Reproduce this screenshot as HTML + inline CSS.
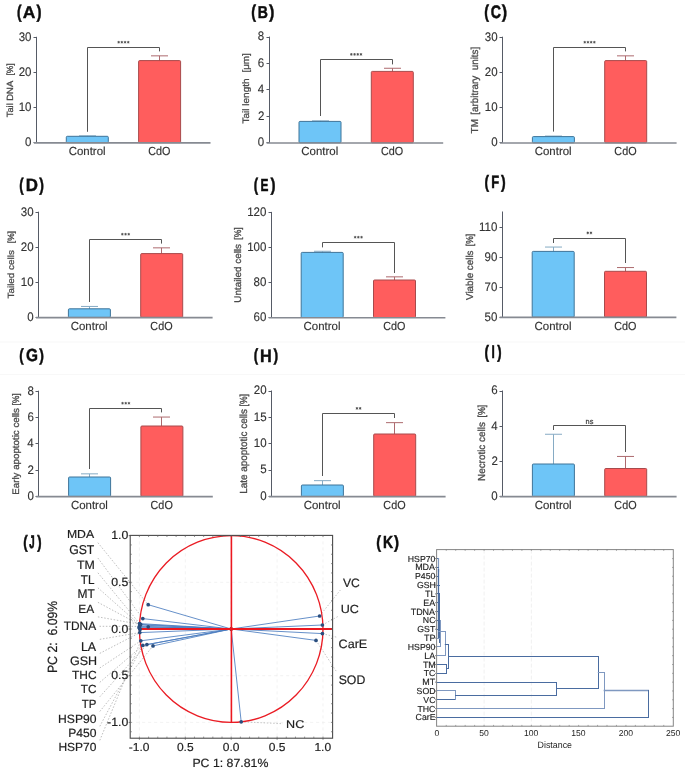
<!DOCTYPE html>
<html><head><meta charset="utf-8"><title>Figure</title>
<style>html,body{margin:0;padding:0;background:#fff;}svg{display:block;will-change:transform;text-rendering:geometricPrecision;}</style>
</head><body>
<svg width="685" height="771" viewBox="0 0 685 771" font-family='"Liberation Sans", sans-serif'>
<rect width="685" height="771" fill="#fff"/>
<rect x="0" y="341.6" width="685" height="0.8" fill="#f4f4f4"/>
<rect x="0" y="374.1" width="685" height="0.8" fill="#f6f6f6"/>
<line x1="36.5" y1="36.8" x2="36.5" y2="142.7" stroke="#565b66" stroke-width="1"/>
<line x1="33.5" y1="142.5" x2="36.5" y2="142.5" stroke="#565b66" stroke-width="1"/>
<text transform="translate(25.1,146.08) scale(0.9300,1)" font-size="12.400" fill="#333" font-weight="normal" stroke="#333" stroke-width="0.13">0</text>
<line x1="33.5" y1="107.5" x2="36.5" y2="107.5" stroke="#565b66" stroke-width="1"/>
<text transform="translate(18.7,110.94) scale(0.9300,1)" font-size="12.400" fill="#333" font-weight="normal" stroke="#333" stroke-width="0.13">10</text>
<line x1="33.5" y1="72.5" x2="36.5" y2="72.5" stroke="#565b66" stroke-width="1"/>
<text transform="translate(18.7,75.81) scale(0.9300,1)" font-size="12.400" fill="#333" font-weight="normal" stroke="#333" stroke-width="0.13">20</text>
<line x1="33.5" y1="37.5" x2="36.5" y2="37.5" stroke="#565b66" stroke-width="1"/>
<text transform="translate(18.7,40.68) scale(0.9300,1)" font-size="12.400" fill="#333" font-weight="normal" stroke="#333" stroke-width="0.13">30</text>
<line x1="87.5" y1="135.85" x2="87.5" y2="137.3" stroke="#86abc4" stroke-width="1"/>
<line x1="79" y1="135.85" x2="96" y2="135.85" stroke="#86abc4" stroke-width="1"/>
<rect x="66.3" y="136.3" width="42" height="6.4" rx="1" fill="#6ec5f7" stroke="#3f7499" stroke-width="1"/>
<line x1="159.5" y1="55.85" x2="159.5" y2="61.6" stroke="#ad6a6e" stroke-width="1"/>
<line x1="151" y1="55.85" x2="168" y2="55.85" stroke="#ad6a6e" stroke-width="1"/>
<rect x="138.6" y="60.6" width="42" height="82.1" rx="1" fill="#ff5d5d" stroke="#a84a4c" stroke-width="1"/>
<line x1="33.9" y1="142.9" x2="210.5" y2="142.9" stroke="#868a92" stroke-width="1.6"/>
<polyline points="87.5,131.8 87.5,47.5 159.5,47.5 159.5,51.4" fill="none" stroke="#555" stroke-width="1"/>
<circle cx="118.65" cy="42.1" r="0.95" fill="#444"/>
<path d="M118.65,40.8v3 M117.35,41.55l2.6,1.5 M117.35,43.05l2.6,-1.5" stroke="#555" stroke-width="0.45" fill="none"/>
<circle cx="121.85" cy="42.1" r="0.95" fill="#444"/>
<path d="M121.85,40.8v3 M120.55,41.55l2.6,1.5 M120.55,43.05l2.6,-1.5" stroke="#555" stroke-width="0.45" fill="none"/>
<circle cx="125.05" cy="42.1" r="0.95" fill="#444"/>
<path d="M125.05,40.8v3 M123.75,41.55l2.6,1.5 M123.75,43.05l2.6,-1.5" stroke="#555" stroke-width="0.45" fill="none"/>
<circle cx="128.25" cy="42.1" r="0.95" fill="#444"/>
<path d="M128.25,40.8v3 M126.95,41.55l2.6,1.5 M126.95,43.05l2.6,-1.5" stroke="#555" stroke-width="0.45" fill="none"/>
<text transform="translate(68.63,155.28) scale(0.9799,1)" font-size="11.701" fill="#333" font-weight="normal" stroke="#333" stroke-width="0.15">Control</text>
<text transform="translate(148.26,155.38) scale(0.9138,1)" font-size="11.837" fill="#333" font-weight="normal" stroke="#333" stroke-width="0.16">CdO</text>
<text transform="translate(12.76,75.49) rotate(-90) scale(0.9418,1)" font-size="8.984" fill="#4a4a4a" stroke="#4a4a4a" stroke-width="0.32">[%]</text>
<text transform="translate(12.76,117.29) rotate(-90) scale(1.0441,1)" font-size="8.984" fill="#4a4a4a" stroke="#4a4a4a" stroke-width="0.29">Tail DNA</text>
<text transform="translate(17.02,17.98) scale(0.7464,1)" font-size="18.182" fill="#0d0d0d" font-weight="bold" stroke="#0d0d0d" stroke-width="0.54">(</text>
<text transform="translate(22.76,17.6) scale(1.0299,1)" font-size="16.957" fill="#0d0d0d" font-weight="bold" stroke="#0d0d0d" stroke-width="0.39">A</text>
<text transform="translate(36.4,17.98) scale(0.8298,1)" font-size="18.182" fill="#0d0d0d" font-weight="bold" stroke="#0d0d0d" stroke-width="0.48">)</text>
<line x1="269.5" y1="36.6" x2="269.5" y2="142.8" stroke="#565b66" stroke-width="1"/>
<line x1="266.5" y1="142.5" x2="269.5" y2="142.5" stroke="#565b66" stroke-width="1"/>
<text transform="translate(257.8,146.18) scale(0.9300,1)" font-size="12.400" fill="#333" font-weight="normal" stroke="#333" stroke-width="0.13">0</text>
<line x1="266.5" y1="116.5" x2="269.5" y2="116.5" stroke="#565b66" stroke-width="1"/>
<text transform="translate(257.98,119.81) scale(0.9300,1)" font-size="12.400" fill="#333" font-weight="normal" stroke="#333" stroke-width="0.13">2</text>
<line x1="266.5" y1="89.5" x2="269.5" y2="89.5" stroke="#565b66" stroke-width="1"/>
<text transform="translate(257.75,93.33) scale(0.9300,1)" font-size="12.400" fill="#333" font-weight="normal" stroke="#333" stroke-width="0.13">4</text>
<line x1="266.5" y1="63.5" x2="269.5" y2="63.5" stroke="#565b66" stroke-width="1"/>
<text transform="translate(257.86,66.9) scale(0.9300,1)" font-size="12.400" fill="#333" font-weight="normal" stroke="#333" stroke-width="0.13">6</text>
<line x1="266.5" y1="37.5" x2="269.5" y2="37.5" stroke="#565b66" stroke-width="1"/>
<text transform="translate(257.86,40.48) scale(0.9300,1)" font-size="12.400" fill="#333" font-weight="normal" stroke="#333" stroke-width="0.13">8</text>
<line x1="320.5" y1="120.85" x2="320.5" y2="122.4" stroke="#86abc4" stroke-width="1"/>
<line x1="312" y1="120.85" x2="329" y2="120.85" stroke="#86abc4" stroke-width="1"/>
<rect x="299" y="121.4" width="42" height="21.4" rx="1" fill="#6ec5f7" stroke="#3f7499" stroke-width="1"/>
<line x1="392.5" y1="68.25" x2="392.5" y2="72.4" stroke="#ad6a6e" stroke-width="1"/>
<line x1="384" y1="68.25" x2="401" y2="68.25" stroke="#ad6a6e" stroke-width="1"/>
<rect x="371.3" y="71.4" width="42" height="71.4" rx="1" fill="#ff5d5d" stroke="#a84a4c" stroke-width="1"/>
<line x1="266.6" y1="143" x2="443.2" y2="143" stroke="#868a92" stroke-width="1.6"/>
<polyline points="320.5,116 320.5,59.5 392.5,59.5 392.5,64.4" fill="none" stroke="#555" stroke-width="1"/>
<circle cx="351.35" cy="54.3" r="0.95" fill="#444"/>
<path d="M351.35,53v3 M350.05,53.75l2.6,1.5 M350.05,55.25l2.6,-1.5" stroke="#555" stroke-width="0.45" fill="none"/>
<circle cx="354.55" cy="54.3" r="0.95" fill="#444"/>
<path d="M354.55,53v3 M353.25,53.75l2.6,1.5 M353.25,55.25l2.6,-1.5" stroke="#555" stroke-width="0.45" fill="none"/>
<circle cx="357.75" cy="54.3" r="0.95" fill="#444"/>
<path d="M357.75,53v3 M356.45,53.75l2.6,1.5 M356.45,55.25l2.6,-1.5" stroke="#555" stroke-width="0.45" fill="none"/>
<circle cx="360.95" cy="54.3" r="0.95" fill="#444"/>
<path d="M360.95,53v3 M359.65,53.75l2.6,1.5 M359.65,55.25l2.6,-1.5" stroke="#555" stroke-width="0.45" fill="none"/>
<text transform="translate(301.33,155.38) scale(0.9799,1)" font-size="11.701" fill="#333" font-weight="normal" stroke="#333" stroke-width="0.15">Control</text>
<text transform="translate(380.96,155.48) scale(0.9138,1)" font-size="11.837" fill="#333" font-weight="normal" stroke="#333" stroke-width="0.16">CdO</text>
<text transform="translate(248.87,72.48) rotate(-90) scale(1.0391,1)" font-size="9.412" fill="#4a4a4a" stroke="#4a4a4a" stroke-width="0.29">[&#956;m]</text>
<text transform="translate(248.87,123.5) rotate(-90) scale(1.0637,1)" font-size="9.412" fill="#4a4a4a" stroke="#4a4a4a" stroke-width="0.28">Tail length</text>
<text transform="translate(251.19,17.99) scale(0.7677,1)" font-size="18.610" fill="#0d0d0d" font-weight="bold" stroke="#0d0d0d" stroke-width="0.52">(</text>
<text transform="translate(257.78,17.6) scale(0.8175,1)" font-size="17.246" fill="#0d0d0d" font-weight="bold" stroke="#0d0d0d" stroke-width="0.49">B</text>
<text transform="translate(269.1,17.99) scale(0.8673,1)" font-size="18.610" fill="#0d0d0d" font-weight="bold" stroke="#0d0d0d" stroke-width="0.46">)</text>
<line x1="502.5" y1="36.7" x2="502.5" y2="142.8" stroke="#565b66" stroke-width="1"/>
<line x1="499.5" y1="142.5" x2="502.5" y2="142.5" stroke="#565b66" stroke-width="1"/>
<text transform="translate(491.2,146.18) scale(0.9300,1)" font-size="12.400" fill="#333" font-weight="normal" stroke="#333" stroke-width="0.13">0</text>
<line x1="499.5" y1="107.5" x2="502.5" y2="107.5" stroke="#565b66" stroke-width="1"/>
<text transform="translate(484.8,110.98) scale(0.9300,1)" font-size="12.400" fill="#333" font-weight="normal" stroke="#333" stroke-width="0.13">10</text>
<line x1="499.5" y1="72.5" x2="502.5" y2="72.5" stroke="#565b66" stroke-width="1"/>
<text transform="translate(484.8,75.78) scale(0.9300,1)" font-size="12.400" fill="#333" font-weight="normal" stroke="#333" stroke-width="0.13">20</text>
<line x1="499.5" y1="37.5" x2="502.5" y2="37.5" stroke="#565b66" stroke-width="1"/>
<text transform="translate(484.8,40.58) scale(0.9300,1)" font-size="12.400" fill="#333" font-weight="normal" stroke="#333" stroke-width="0.13">30</text>
<line x1="553.5" y1="136.05" x2="553.5" y2="137.6" stroke="#86abc4" stroke-width="1"/>
<line x1="545" y1="136.05" x2="562" y2="136.05" stroke="#86abc4" stroke-width="1"/>
<rect x="532.4" y="136.6" width="42" height="6.2" rx="1" fill="#6ec5f7" stroke="#3f7499" stroke-width="1"/>
<line x1="625.5" y1="55.85" x2="625.5" y2="61.6" stroke="#ad6a6e" stroke-width="1"/>
<line x1="617" y1="55.85" x2="634" y2="55.85" stroke="#ad6a6e" stroke-width="1"/>
<rect x="604.7" y="60.6" width="42" height="82.2" rx="1" fill="#ff5d5d" stroke="#a84a4c" stroke-width="1"/>
<line x1="500" y1="143" x2="676.6" y2="143" stroke="#868a92" stroke-width="1.6"/>
<polyline points="553.5,131.6 553.5,47.5 625.5,47.5 625.5,51.4" fill="none" stroke="#555" stroke-width="1"/>
<circle cx="584.75" cy="42.1" r="0.95" fill="#444"/>
<path d="M584.75,40.8v3 M583.45,41.55l2.6,1.5 M583.45,43.05l2.6,-1.5" stroke="#555" stroke-width="0.45" fill="none"/>
<circle cx="587.95" cy="42.1" r="0.95" fill="#444"/>
<path d="M587.95,40.8v3 M586.65,41.55l2.6,1.5 M586.65,43.05l2.6,-1.5" stroke="#555" stroke-width="0.45" fill="none"/>
<circle cx="591.15" cy="42.1" r="0.95" fill="#444"/>
<path d="M591.15,40.8v3 M589.85,41.55l2.6,1.5 M589.85,43.05l2.6,-1.5" stroke="#555" stroke-width="0.45" fill="none"/>
<circle cx="594.35" cy="42.1" r="0.95" fill="#444"/>
<path d="M594.35,40.8v3 M593.05,41.55l2.6,1.5 M593.05,43.05l2.6,-1.5" stroke="#555" stroke-width="0.45" fill="none"/>
<text transform="translate(534.73,155.38) scale(0.9799,1)" font-size="11.701" fill="#333" font-weight="normal" stroke="#333" stroke-width="0.15">Control</text>
<text transform="translate(614.36,155.48) scale(0.9138,1)" font-size="11.837" fill="#333" font-weight="normal" stroke="#333" stroke-width="0.16">CdO</text>
<text transform="translate(477.64,114.69) rotate(-90) scale(0.9814,1)" font-size="10.053" fill="#4a4a4a" stroke="#4a4a4a" stroke-width="0.31">[arbitrary&#160;&#160;units]</text>
<text transform="translate(477.64,133.4) rotate(-90) scale(0.9873,1)" font-size="10.053" fill="#4a4a4a" stroke="#4a4a4a" stroke-width="0.3">TM</text>
<text transform="translate(484.19,17.99) scale(0.7677,1)" font-size="18.610" fill="#0d0d0d" font-weight="bold" stroke="#0d0d0d" stroke-width="0.52">(</text>
<text transform="translate(490.73,18.22) scale(0.7815,1)" font-size="18.169" fill="#0d0d0d" font-weight="bold" stroke="#0d0d0d" stroke-width="0.51">C</text>
<text transform="translate(501.8,17.99) scale(0.8673,1)" font-size="18.610" fill="#0d0d0d" font-weight="bold" stroke="#0d0d0d" stroke-width="0.46">)</text>
<line x1="38.5" y1="211.7" x2="38.5" y2="317.4" stroke="#565b66" stroke-width="1"/>
<line x1="35.5" y1="317.5" x2="38.5" y2="317.5" stroke="#565b66" stroke-width="1"/>
<text transform="translate(27.2,320.78) scale(0.9300,1)" font-size="12.400" fill="#333" font-weight="normal" stroke="#333" stroke-width="0.13">0</text>
<line x1="35.5" y1="282.5" x2="38.5" y2="282.5" stroke="#565b66" stroke-width="1"/>
<text transform="translate(20.8,285.71) scale(0.9300,1)" font-size="12.400" fill="#333" font-weight="normal" stroke="#333" stroke-width="0.13">10</text>
<line x1="35.5" y1="247.5" x2="38.5" y2="247.5" stroke="#565b66" stroke-width="1"/>
<text transform="translate(20.8,250.64) scale(0.9300,1)" font-size="12.400" fill="#333" font-weight="normal" stroke="#333" stroke-width="0.13">20</text>
<line x1="35.5" y1="212.5" x2="38.5" y2="212.5" stroke="#565b66" stroke-width="1"/>
<text transform="translate(20.8,215.58) scale(0.9300,1)" font-size="12.400" fill="#333" font-weight="normal" stroke="#333" stroke-width="0.13">30</text>
<line x1="89.5" y1="306.45" x2="89.5" y2="309.8" stroke="#86abc4" stroke-width="1"/>
<line x1="81" y1="306.45" x2="98" y2="306.45" stroke="#86abc4" stroke-width="1"/>
<rect x="68.4" y="308.8" width="42" height="8.6" rx="1" fill="#6ec5f7" stroke="#3f7499" stroke-width="1"/>
<line x1="161.5" y1="247.85" x2="161.5" y2="254.6" stroke="#ad6a6e" stroke-width="1"/>
<line x1="153" y1="247.85" x2="170" y2="247.85" stroke="#ad6a6e" stroke-width="1"/>
<rect x="140.7" y="253.6" width="42" height="63.8" rx="1" fill="#ff5d5d" stroke="#a84a4c" stroke-width="1"/>
<line x1="36" y1="317.6" x2="212.6" y2="317.6" stroke="#868a92" stroke-width="1.6"/>
<polyline points="89.5,302 89.5,239.5 161.5,239.5 161.5,243.6" fill="none" stroke="#555" stroke-width="1"/>
<circle cx="122.35" cy="234.1" r="0.95" fill="#444"/>
<path d="M122.35,232.8v3 M121.05,233.55l2.6,1.5 M121.05,235.05l2.6,-1.5" stroke="#555" stroke-width="0.45" fill="none"/>
<circle cx="125.55" cy="234.1" r="0.95" fill="#444"/>
<path d="M125.55,232.8v3 M124.25,233.55l2.6,1.5 M124.25,235.05l2.6,-1.5" stroke="#555" stroke-width="0.45" fill="none"/>
<circle cx="128.75" cy="234.1" r="0.95" fill="#444"/>
<path d="M128.75,232.8v3 M127.45,233.55l2.6,1.5 M127.45,235.05l2.6,-1.5" stroke="#555" stroke-width="0.45" fill="none"/>
<text transform="translate(70.73,329.98) scale(0.9799,1)" font-size="11.701" fill="#333" font-weight="normal" stroke="#333" stroke-width="0.15">Control</text>
<text transform="translate(150.36,330.08) scale(0.9138,1)" font-size="11.837" fill="#333" font-weight="normal" stroke="#333" stroke-width="0.16">CdO</text>
<text transform="translate(14.46,243.19) rotate(-90) scale(0.9333,1)" font-size="8.984" fill="#4a4a4a" stroke="#4a4a4a" stroke-width="0.32">[%]</text>
<text transform="translate(14.46,298.5) rotate(-90) scale(1.1027,1)" font-size="8.984" fill="#4a4a4a" stroke="#4a4a4a" stroke-width="0.27">Tailed cells</text>
<text transform="translate(19.34,190.94) scale(0.7183,1)" font-size="18.396" fill="#0d0d0d" font-weight="bold" stroke="#0d0d0d" stroke-width="0.56">(</text>
<text transform="translate(25.7,191.3) scale(0.9410,1)" font-size="17.971" fill="#0d0d0d" font-weight="bold" stroke="#0d0d0d" stroke-width="0.43">D</text>
<text transform="translate(39.3,190.94) scale(0.7630,1)" font-size="18.396" fill="#0d0d0d" font-weight="bold" stroke="#0d0d0d" stroke-width="0.52">)</text>
<line x1="271.5" y1="211.9" x2="271.5" y2="317.5" stroke="#565b66" stroke-width="1"/>
<line x1="268.5" y1="317.5" x2="271.5" y2="317.5" stroke="#565b66" stroke-width="1"/>
<text transform="translate(253.6,320.88) scale(0.9300,1)" font-size="12.400" fill="#333" font-weight="normal" stroke="#333" stroke-width="0.13">60</text>
<line x1="268.5" y1="282.5" x2="271.5" y2="282.5" stroke="#565b66" stroke-width="1"/>
<text transform="translate(253.6,285.84) scale(0.9300,1)" font-size="12.400" fill="#333" font-weight="normal" stroke="#333" stroke-width="0.13">80</text>
<line x1="268.5" y1="247.5" x2="271.5" y2="247.5" stroke="#565b66" stroke-width="1"/>
<text transform="translate(247.2,250.81) scale(0.9300,1)" font-size="12.400" fill="#333" font-weight="normal" stroke="#333" stroke-width="0.13">100</text>
<line x1="268.5" y1="212.5" x2="271.5" y2="212.5" stroke="#565b66" stroke-width="1"/>
<text transform="translate(247.2,215.78) scale(0.9300,1)" font-size="12.400" fill="#333" font-weight="normal" stroke="#333" stroke-width="0.13">120</text>
<line x1="322.5" y1="251.25" x2="322.5" y2="253.4" stroke="#86abc4" stroke-width="1"/>
<line x1="314" y1="251.25" x2="331" y2="251.25" stroke="#86abc4" stroke-width="1"/>
<rect x="301.2" y="252.4" width="42" height="65.1" rx="1" fill="#6ec5f7" stroke="#3f7499" stroke-width="1"/>
<line x1="394.5" y1="276.85" x2="394.5" y2="281" stroke="#ad6a6e" stroke-width="1"/>
<line x1="386" y1="276.85" x2="403" y2="276.85" stroke="#ad6a6e" stroke-width="1"/>
<rect x="373.5" y="280" width="42" height="37.5" rx="1" fill="#ff5d5d" stroke="#a84a4c" stroke-width="1"/>
<line x1="268.8" y1="317.7" x2="445.4" y2="317.7" stroke="#868a92" stroke-width="1.6"/>
<polyline points="322.5,247.4 322.5,242.5 394.5,242.5 394.5,273" fill="none" stroke="#555" stroke-width="1"/>
<circle cx="355.15" cy="237.1" r="0.95" fill="#444"/>
<path d="M355.15,235.8v3 M353.85,236.55l2.6,1.5 M353.85,238.05l2.6,-1.5" stroke="#555" stroke-width="0.45" fill="none"/>
<circle cx="358.35" cy="237.1" r="0.95" fill="#444"/>
<path d="M358.35,235.8v3 M357.05,236.55l2.6,1.5 M357.05,238.05l2.6,-1.5" stroke="#555" stroke-width="0.45" fill="none"/>
<circle cx="361.55" cy="237.1" r="0.95" fill="#444"/>
<path d="M361.55,235.8v3 M360.25,236.55l2.6,1.5 M360.25,238.05l2.6,-1.5" stroke="#555" stroke-width="0.45" fill="none"/>
<text transform="translate(303.53,330.08) scale(0.9799,1)" font-size="11.701" fill="#333" font-weight="normal" stroke="#333" stroke-width="0.15">Control</text>
<text transform="translate(383.16,330.18) scale(0.9138,1)" font-size="11.837" fill="#333" font-weight="normal" stroke="#333" stroke-width="0.16">CdO</text>
<text transform="translate(240.83,239.7) rotate(-90) scale(0.8871,1)" font-size="9.626" fill="#4a4a4a" stroke="#4a4a4a" stroke-width="0.34">[%]</text>
<text transform="translate(240.83,302.64) rotate(-90) scale(1.0255,1)" font-size="9.626" fill="#4a4a4a" stroke="#4a4a4a" stroke-width="0.29">Untailed cells</text>
<text transform="translate(253.64,190.94) scale(0.7183,1)" font-size="18.396" fill="#0d0d0d" font-weight="bold" stroke="#0d0d0d" stroke-width="0.56">(</text>
<text transform="translate(260.43,191.3) scale(0.6762,1)" font-size="17.536" fill="#0d0d0d" font-weight="bold" stroke="#0d0d0d" stroke-width="0.59">E</text>
<text transform="translate(270.4,190.94) scale(0.8202,1)" font-size="18.396" fill="#0d0d0d" font-weight="bold" stroke="#0d0d0d" stroke-width="0.49">)</text>
<line x1="502.5" y1="211.5" x2="502.5" y2="317.2" stroke="#565b66" stroke-width="1"/>
<line x1="499.5" y1="317.5" x2="502.5" y2="317.5" stroke="#565b66" stroke-width="1"/>
<text transform="translate(484.6,320.58) scale(0.9300,1)" font-size="12.400" fill="#333" font-weight="normal" stroke="#333" stroke-width="0.13">50</text>
<line x1="499.5" y1="287.5" x2="502.5" y2="287.5" stroke="#565b66" stroke-width="1"/>
<text transform="translate(484.6,290.78) scale(0.9300,1)" font-size="12.400" fill="#333" font-weight="normal" stroke="#333" stroke-width="0.13">70</text>
<line x1="499.5" y1="257.5" x2="502.5" y2="257.5" stroke="#565b66" stroke-width="1"/>
<text transform="translate(484.6,260.78) scale(0.9300,1)" font-size="12.400" fill="#333" font-weight="normal" stroke="#333" stroke-width="0.13">90</text>
<line x1="499.5" y1="227.5" x2="502.5" y2="227.5" stroke="#565b66" stroke-width="1"/>
<text transform="translate(479.01,230.78) scale(0.9300,1)" font-size="12.400" fill="#333" font-weight="normal" stroke="#333" stroke-width="0.13">110</text>
<line x1="553.5" y1="247.05" x2="553.5" y2="252.4" stroke="#86abc4" stroke-width="1"/>
<line x1="545" y1="247.05" x2="562" y2="247.05" stroke="#86abc4" stroke-width="1"/>
<rect x="532.2" y="251.4" width="42" height="65.8" rx="1" fill="#6ec5f7" stroke="#3f7499" stroke-width="1"/>
<line x1="625.5" y1="267.55" x2="625.5" y2="272.3" stroke="#ad6a6e" stroke-width="1"/>
<line x1="617" y1="267.55" x2="634" y2="267.55" stroke="#ad6a6e" stroke-width="1"/>
<rect x="604.5" y="271.3" width="42" height="45.9" rx="1" fill="#ff5d5d" stroke="#a84a4c" stroke-width="1"/>
<line x1="499.8" y1="317.4" x2="676.4" y2="317.4" stroke="#868a92" stroke-width="1.6"/>
<polyline points="553.5,243 553.5,238.5 625.5,238.5 625.5,263" fill="none" stroke="#555" stroke-width="1"/>
<circle cx="587.75" cy="232.8" r="0.95" fill="#444"/>
<path d="M587.75,231.5v3 M586.45,232.25l2.6,1.5 M586.45,233.75l2.6,-1.5" stroke="#555" stroke-width="0.45" fill="none"/>
<circle cx="590.95" cy="232.8" r="0.95" fill="#444"/>
<path d="M590.95,231.5v3 M589.65,232.25l2.6,1.5 M589.65,233.75l2.6,-1.5" stroke="#555" stroke-width="0.45" fill="none"/>
<text transform="translate(534.53,329.78) scale(0.9799,1)" font-size="11.701" fill="#333" font-weight="normal" stroke="#333" stroke-width="0.15">Control</text>
<text transform="translate(614.16,329.88) scale(0.9138,1)" font-size="11.837" fill="#333" font-weight="normal" stroke="#333" stroke-width="0.16">CdO</text>
<text transform="translate(472.76,246.2) rotate(-90) scale(0.8584,1)" font-size="9.947" fill="#4a4a4a" stroke="#4a4a4a" stroke-width="0.35">[%]</text>
<text transform="translate(472.76,299.95) rotate(-90) scale(0.9873,1)" font-size="9.947" fill="#4a4a4a" stroke="#4a4a4a" stroke-width="0.3">Viable cells</text>
<text transform="translate(484.42,187.9) scale(0.7508,1)" font-size="18.075" fill="#0d0d0d" font-weight="bold" stroke="#0d0d0d" stroke-width="0.53">(</text>
<text transform="translate(491.36,188.2) scale(0.7319,1)" font-size="17.681" fill="#0d0d0d" font-weight="bold" stroke="#0d0d0d" stroke-width="0.55">F</text>
<text transform="translate(501,187.9) scale(0.7765,1)" font-size="18.075" fill="#0d0d0d" font-weight="bold" stroke="#0d0d0d" stroke-width="0.52">)</text>
<line x1="38.5" y1="390.7" x2="38.5" y2="496.4" stroke="#565b66" stroke-width="1"/>
<line x1="35.5" y1="496.5" x2="38.5" y2="496.5" stroke="#565b66" stroke-width="1"/>
<text transform="translate(27.4,499.78) scale(0.9300,1)" font-size="12.400" fill="#333" font-weight="normal" stroke="#333" stroke-width="0.13">0</text>
<line x1="35.5" y1="470.5" x2="38.5" y2="470.5" stroke="#565b66" stroke-width="1"/>
<text transform="translate(27.58,473.54) scale(0.9300,1)" font-size="12.400" fill="#333" font-weight="normal" stroke="#333" stroke-width="0.13">2</text>
<line x1="35.5" y1="443.5" x2="38.5" y2="443.5" stroke="#565b66" stroke-width="1"/>
<text transform="translate(27.35,447.18) scale(0.9300,1)" font-size="12.400" fill="#333" font-weight="normal" stroke="#333" stroke-width="0.13">4</text>
<line x1="35.5" y1="417.5" x2="38.5" y2="417.5" stroke="#565b66" stroke-width="1"/>
<text transform="translate(27.46,420.88) scale(0.9300,1)" font-size="12.400" fill="#333" font-weight="normal" stroke="#333" stroke-width="0.13">6</text>
<line x1="35.5" y1="391.5" x2="38.5" y2="391.5" stroke="#565b66" stroke-width="1"/>
<text transform="translate(27.46,394.58) scale(0.9300,1)" font-size="12.400" fill="#333" font-weight="normal" stroke="#333" stroke-width="0.13">8</text>
<line x1="89.5" y1="473.85" x2="89.5" y2="478" stroke="#86abc4" stroke-width="1"/>
<line x1="81" y1="473.85" x2="98" y2="473.85" stroke="#86abc4" stroke-width="1"/>
<rect x="68.6" y="477" width="42" height="19.4" rx="1" fill="#6ec5f7" stroke="#3f7499" stroke-width="1"/>
<line x1="161.5" y1="417.05" x2="161.5" y2="427" stroke="#ad6a6e" stroke-width="1"/>
<line x1="153" y1="417.05" x2="170" y2="417.05" stroke="#ad6a6e" stroke-width="1"/>
<rect x="140.9" y="426" width="42" height="70.4" rx="1" fill="#ff5d5d" stroke="#a84a4c" stroke-width="1"/>
<line x1="36.2" y1="496.6" x2="212.8" y2="496.6" stroke="#868a92" stroke-width="1.6"/>
<polyline points="89.5,469 89.5,408.5 161.5,408.5 161.5,412.4" fill="none" stroke="#555" stroke-width="1"/>
<circle cx="122.55" cy="403.1" r="0.95" fill="#444"/>
<path d="M122.55,401.8v3 M121.25,402.55l2.6,1.5 M121.25,404.05l2.6,-1.5" stroke="#555" stroke-width="0.45" fill="none"/>
<circle cx="125.75" cy="403.1" r="0.95" fill="#444"/>
<path d="M125.75,401.8v3 M124.45,402.55l2.6,1.5 M124.45,404.05l2.6,-1.5" stroke="#555" stroke-width="0.45" fill="none"/>
<circle cx="128.95" cy="403.1" r="0.95" fill="#444"/>
<path d="M128.95,401.8v3 M127.65,402.55l2.6,1.5 M127.65,404.05l2.6,-1.5" stroke="#555" stroke-width="0.45" fill="none"/>
<text transform="translate(70.93,508.98) scale(0.9799,1)" font-size="11.701" fill="#333" font-weight="normal" stroke="#333" stroke-width="0.15">Control</text>
<text transform="translate(150.56,509.08) scale(0.9138,1)" font-size="11.837" fill="#333" font-weight="normal" stroke="#333" stroke-width="0.16">CdO</text>
<text transform="translate(18.85,405.6) rotate(-90) scale(0.8970,1)" font-size="9.519" fill="#4a4a4a" stroke="#4a4a4a" stroke-width="0.33">[%]</text>
<text transform="translate(18.85,494.68) rotate(-90) scale(1.0242,1)" font-size="9.519" fill="#4a4a4a" stroke="#4a4a4a" stroke-width="0.29">Early apoptotic cells</text>
<text transform="translate(19.34,361.14) scale(0.7580,1)" font-size="17.433" fill="#0d0d0d" font-weight="bold" stroke="#0d0d0d" stroke-width="0.53">(</text>
<text transform="translate(25.88,361.43) scale(0.8822,1)" font-size="17.465" fill="#0d0d0d" font-weight="bold" stroke="#0d0d0d" stroke-width="0.45">G</text>
<text transform="translate(39.3,361.14) scale(0.8051,1)" font-size="17.433" fill="#0d0d0d" font-weight="bold" stroke="#0d0d0d" stroke-width="0.5">)</text>
<line x1="271.5" y1="390.5" x2="271.5" y2="496.4" stroke="#565b66" stroke-width="1"/>
<line x1="268.5" y1="496.5" x2="271.5" y2="496.5" stroke="#565b66" stroke-width="1"/>
<text transform="translate(260.2,499.78) scale(0.9300,1)" font-size="12.400" fill="#333" font-weight="normal" stroke="#333" stroke-width="0.13">0</text>
<line x1="268.5" y1="470.5" x2="271.5" y2="470.5" stroke="#565b66" stroke-width="1"/>
<text transform="translate(260.26,473.37) scale(0.9300,1)" font-size="12.400" fill="#333" font-weight="normal" stroke="#333" stroke-width="0.13">5</text>
<line x1="268.5" y1="443.5" x2="271.5" y2="443.5" stroke="#565b66" stroke-width="1"/>
<text transform="translate(253.8,447.08) scale(0.9300,1)" font-size="12.400" fill="#333" font-weight="normal" stroke="#333" stroke-width="0.13">10</text>
<line x1="268.5" y1="417.5" x2="271.5" y2="417.5" stroke="#565b66" stroke-width="1"/>
<text transform="translate(253.86,420.67) scale(0.9300,1)" font-size="12.400" fill="#333" font-weight="normal" stroke="#333" stroke-width="0.13">15</text>
<line x1="268.5" y1="391.5" x2="271.5" y2="391.5" stroke="#565b66" stroke-width="1"/>
<text transform="translate(253.8,394.38) scale(0.9300,1)" font-size="12.400" fill="#333" font-weight="normal" stroke="#333" stroke-width="0.13">20</text>
<line x1="322.5" y1="480.65" x2="322.5" y2="486" stroke="#86abc4" stroke-width="1"/>
<line x1="314" y1="480.65" x2="331" y2="480.65" stroke="#86abc4" stroke-width="1"/>
<rect x="301.4" y="485" width="42" height="11.4" rx="1" fill="#6ec5f7" stroke="#3f7499" stroke-width="1"/>
<line x1="394.5" y1="422.65" x2="394.5" y2="435" stroke="#ad6a6e" stroke-width="1"/>
<line x1="386" y1="422.65" x2="403" y2="422.65" stroke="#ad6a6e" stroke-width="1"/>
<rect x="373.7" y="434" width="42" height="62.4" rx="1" fill="#ff5d5d" stroke="#a84a4c" stroke-width="1"/>
<line x1="269" y1="496.6" x2="445.6" y2="496.6" stroke="#868a92" stroke-width="1.6"/>
<polyline points="322.5,476 322.5,413.5 394.5,413.5 394.5,418" fill="none" stroke="#555" stroke-width="1"/>
<circle cx="356.95" cy="408.3" r="0.95" fill="#444"/>
<path d="M356.95,407v3 M355.65,407.75l2.6,1.5 M355.65,409.25l2.6,-1.5" stroke="#555" stroke-width="0.45" fill="none"/>
<circle cx="360.15" cy="408.3" r="0.95" fill="#444"/>
<path d="M360.15,407v3 M358.85,407.75l2.6,1.5 M358.85,409.25l2.6,-1.5" stroke="#555" stroke-width="0.45" fill="none"/>
<text transform="translate(303.73,508.98) scale(0.9799,1)" font-size="11.701" fill="#333" font-weight="normal" stroke="#333" stroke-width="0.15">Control</text>
<text transform="translate(383.36,509.08) scale(0.9138,1)" font-size="11.837" fill="#333" font-weight="normal" stroke="#333" stroke-width="0.16">CdO</text>
<text transform="translate(246.69,406.5) rotate(-90) scale(0.8391,1)" font-size="10.267" fill="#4a4a4a" stroke="#4a4a4a" stroke-width="0.36">[%]</text>
<text transform="translate(246.69,493.79) rotate(-90) scale(0.9665,1)" font-size="10.267" fill="#4a4a4a" stroke="#4a4a4a" stroke-width="0.31">Late apoptotic cells</text>
<text transform="translate(253.64,361.14) scale(0.7580,1)" font-size="17.433" fill="#0d0d0d" font-weight="bold" stroke="#0d0d0d" stroke-width="0.53">(</text>
<text transform="translate(259.94,361.6) scale(0.9128,1)" font-size="17.826" fill="#0d0d0d" font-weight="bold" stroke="#0d0d0d" stroke-width="0.44">H</text>
<text transform="translate(273.6,361.14) scale(0.8051,1)" font-size="17.433" fill="#0d0d0d" font-weight="bold" stroke="#0d0d0d" stroke-width="0.5">)</text>
<line x1="502.5" y1="390.5" x2="502.5" y2="496.4" stroke="#565b66" stroke-width="1"/>
<line x1="499.5" y1="496.5" x2="502.5" y2="496.5" stroke="#565b66" stroke-width="1"/>
<text transform="translate(491.2,499.78) scale(0.9300,1)" font-size="12.400" fill="#333" font-weight="normal" stroke="#333" stroke-width="0.13">0</text>
<line x1="499.5" y1="461.5" x2="502.5" y2="461.5" stroke="#565b66" stroke-width="1"/>
<text transform="translate(491.38,464.71) scale(0.9300,1)" font-size="12.400" fill="#333" font-weight="normal" stroke="#333" stroke-width="0.13">2</text>
<line x1="499.5" y1="426.5" x2="502.5" y2="426.5" stroke="#565b66" stroke-width="1"/>
<text transform="translate(491.15,429.51) scale(0.9300,1)" font-size="12.400" fill="#333" font-weight="normal" stroke="#333" stroke-width="0.13">4</text>
<line x1="499.5" y1="391.5" x2="502.5" y2="391.5" stroke="#565b66" stroke-width="1"/>
<text transform="translate(491.26,394.38) scale(0.9300,1)" font-size="12.400" fill="#333" font-weight="normal" stroke="#333" stroke-width="0.13">6</text>
<line x1="553.5" y1="434.25" x2="553.5" y2="465" stroke="#86abc4" stroke-width="1"/>
<line x1="545" y1="434.25" x2="562" y2="434.25" stroke="#86abc4" stroke-width="1"/>
<rect x="532.4" y="464" width="42" height="32.4" rx="1" fill="#6ec5f7" stroke="#3f7499" stroke-width="1"/>
<line x1="625.5" y1="456.45" x2="625.5" y2="469.5" stroke="#ad6a6e" stroke-width="1"/>
<line x1="617" y1="456.45" x2="634" y2="456.45" stroke="#ad6a6e" stroke-width="1"/>
<rect x="604.7" y="468.5" width="42" height="27.9" rx="1" fill="#ff5d5d" stroke="#a84a4c" stroke-width="1"/>
<line x1="500" y1="496.6" x2="676.6" y2="496.6" stroke="#868a92" stroke-width="1.6"/>
<polyline points="553.5,430 553.5,425.5 625.5,425.5 625.5,452" fill="none" stroke="#555" stroke-width="1"/>
<text transform="translate(585.57,423.92) scale(0.9599,1)" font-size="7.636" fill="#3a3a3a" font-weight="normal" stroke="#3a3a3a" stroke-width="0.21">ns</text>
<text transform="translate(534.73,508.98) scale(0.9799,1)" font-size="11.701" fill="#333" font-weight="normal" stroke="#333" stroke-width="0.15">Control</text>
<text transform="translate(614.36,509.08) scale(0.9138,1)" font-size="11.837" fill="#333" font-weight="normal" stroke="#333" stroke-width="0.16">CdO</text>
<text transform="translate(484.72,417.41) rotate(-90) scale(0.8631,1)" font-size="10.160" fill="#4a4a4a" stroke="#4a4a4a" stroke-width="0.35">[%]</text>
<text transform="translate(484.72,480.99) rotate(-90) scale(0.9741,1)" font-size="10.160" fill="#4a4a4a" stroke="#4a4a4a" stroke-width="0.31">Necrotic cells</text>
<text transform="translate(484.42,357.9) scale(0.7508,1)" font-size="18.075" fill="#0d0d0d" font-weight="bold" stroke="#0d0d0d" stroke-width="0.53">(</text>
<text transform="translate(491.44,358.4) scale(0.6524,1)" font-size="17.971" fill="#0d0d0d" font-weight="bold" stroke="#0d0d0d" stroke-width="0.61">I</text>
<text transform="translate(497.2,357.9) scale(0.7183,1)" font-size="18.075" fill="#0d0d0d" font-weight="bold" stroke="#0d0d0d" stroke-width="0.56">)</text>
<line x1="139.4" y1="535.4" x2="139.4" y2="738.2" stroke="#e9e9e9" stroke-width="0.6" stroke-dasharray="3,3"/>
<line x1="185.3" y1="535.4" x2="185.3" y2="738.2" stroke="#e9e9e9" stroke-width="0.6" stroke-dasharray="3,3"/>
<line x1="231.2" y1="535.4" x2="231.2" y2="738.2" stroke="#e9e9e9" stroke-width="0.6" stroke-dasharray="3,3"/>
<line x1="277.1" y1="535.4" x2="277.1" y2="738.2" stroke="#e9e9e9" stroke-width="0.6" stroke-dasharray="3,3"/>
<line x1="323" y1="535.4" x2="323" y2="738.2" stroke="#e9e9e9" stroke-width="0.6" stroke-dasharray="3,3"/>
<line x1="130.2" y1="582.3" x2="332.6" y2="582.3" stroke="#e9e9e9" stroke-width="0.6" stroke-dasharray="3,3"/>
<line x1="130.2" y1="629" x2="332.6" y2="629" stroke="#e9e9e9" stroke-width="0.6" stroke-dasharray="3,3"/>
<line x1="130.2" y1="675.7" x2="332.6" y2="675.7" stroke="#e9e9e9" stroke-width="0.6" stroke-dasharray="3,3"/>
<line x1="130.2" y1="722.4" x2="332.6" y2="722.4" stroke="#e9e9e9" stroke-width="0.6" stroke-dasharray="3,3"/>
<line x1="97.9" y1="542.7" x2="148.2" y2="604.7" stroke="#a8a8a8" stroke-width="0.75" stroke-dasharray="1.5,1.7"/>
<text transform="translate(66.92,538.4) scale(1.0560,1)" font-size="11.594" fill="#1e1e1e" font-weight="normal" stroke="#1e1e1e" stroke-width="0.19">MDA</text>
<line x1="97.9" y1="558.05" x2="142.8" y2="618.6" stroke="#a8a8a8" stroke-width="0.75" stroke-dasharray="1.5,1.7"/>
<text transform="translate(69.19,554.17) scale(0.9551,1)" font-size="12.817" fill="#1e1e1e" font-weight="normal" stroke="#1e1e1e" stroke-width="0.21">GST</text>
<line x1="97.9" y1="572.8" x2="139.6" y2="623.6" stroke="#a8a8a8" stroke-width="0.75" stroke-dasharray="1.5,1.7"/>
<text transform="translate(76.95,568.7) scale(1.0176,1)" font-size="12.174" fill="#1e1e1e" font-weight="normal" stroke="#1e1e1e" stroke-width="0.2">TM</text>
<line x1="97.9" y1="587.8" x2="139.4" y2="624.6" stroke="#a8a8a8" stroke-width="0.75" stroke-dasharray="1.5,1.7"/>
<text transform="translate(80.87,583.9) scale(0.9142,1)" font-size="12.754" fill="#1e1e1e" font-weight="normal" stroke="#1e1e1e" stroke-width="0.22">TL</text>
<line x1="97.9" y1="602.3" x2="140.2" y2="625" stroke="#a8a8a8" stroke-width="0.75" stroke-dasharray="1.5,1.7"/>
<text transform="translate(77.44,598.4) scale(0.9386,1)" font-size="12.754" fill="#1e1e1e" font-weight="normal" stroke="#1e1e1e" stroke-width="0.21">MT</text>
<line x1="97.9" y1="616.85" x2="140.6" y2="624.4" stroke="#a8a8a8" stroke-width="0.75" stroke-dasharray="1.5,1.7"/>
<text transform="translate(78.25,612.7) scale(0.9909,1)" font-size="12.029" fill="#1e1e1e" font-weight="normal" stroke="#1e1e1e" stroke-width="0.2">EA</text>
<line x1="99.5" y1="626.3" x2="139.4" y2="626.4" stroke="#a8a8a8" stroke-width="0.75" stroke-dasharray="1.5,1.7"/>
<text transform="translate(63.76,629.9) scale(0.9766,1)" font-size="12.174" fill="#1e1e1e" font-weight="normal" stroke="#1e1e1e" stroke-width="0.2">TDNA</text>
<line x1="99.8" y1="639.35" x2="139.8" y2="632.6" stroke="#a8a8a8" stroke-width="0.75" stroke-dasharray="1.5,1.7"/>
<text transform="translate(80.9,650.7) scale(0.9879,1)" font-size="12.609" fill="#1e1e1e" font-weight="normal" stroke="#1e1e1e" stroke-width="0.2">LA</text>
<line x1="99.8" y1="653.35" x2="139.8" y2="632.6" stroke="#a8a8a8" stroke-width="0.75" stroke-dasharray="1.5,1.7"/>
<text transform="translate(69.97,664.58) scale(1.0226,1)" font-size="12.254" fill="#1e1e1e" font-weight="normal" stroke="#1e1e1e" stroke-width="0.2">GSH</text>
<line x1="99.8" y1="667.95" x2="140.8" y2="640.8" stroke="#a8a8a8" stroke-width="0.75" stroke-dasharray="1.5,1.7"/>
<text transform="translate(71.96,678.98) scale(1.0222,1)" font-size="11.690" fill="#1e1e1e" font-weight="normal" stroke="#1e1e1e" stroke-width="0.2">THC</text>
<line x1="99.8" y1="682.35" x2="142.8" y2="645.4" stroke="#a8a8a8" stroke-width="0.75" stroke-dasharray="1.5,1.7"/>
<text transform="translate(80.86,693.38) scale(1.0064,1)" font-size="11.690" fill="#1e1e1e" font-weight="normal" stroke="#1e1e1e" stroke-width="0.2">TC</text>
<line x1="99.8" y1="696.75" x2="146.9" y2="644.6" stroke="#a8a8a8" stroke-width="0.75" stroke-dasharray="1.5,1.7"/>
<text transform="translate(81.77,707.9) scale(0.9521,1)" font-size="12.029" fill="#1e1e1e" font-weight="normal" stroke="#1e1e1e" stroke-width="0.21">TP</text>
<line x1="99.8" y1="711.45" x2="153" y2="645.9" stroke="#a8a8a8" stroke-width="0.75" stroke-dasharray="1.5,1.7"/>
<text transform="translate(58.03,722.58) scale(1.0133,1)" font-size="11.972" fill="#1e1e1e" font-weight="normal" stroke="#1e1e1e" stroke-width="0.2">HSP90</text>
<line x1="99.8" y1="726.3" x2="142.8" y2="645.4" stroke="#a8a8a8" stroke-width="0.75" stroke-dasharray="1.5,1.7"/>
<text transform="translate(68.13,737.38) scale(1.0242,1)" font-size="11.831" fill="#1e1e1e" font-weight="normal" stroke="#1e1e1e" stroke-width="0.2">P450</text>
<line x1="99.8" y1="740.35" x2="140.8" y2="640.8" stroke="#a8a8a8" stroke-width="0.75" stroke-dasharray="1.5,1.7"/>
<text transform="translate(58.44,751.38) scale(1.0265,1)" font-size="11.690" fill="#1e1e1e" font-weight="normal" stroke="#1e1e1e" stroke-width="0.19">HSP70</text>
<line x1="319.6" y1="616" x2="340.4" y2="590" stroke="#b0b0b0" stroke-width="0.75" stroke-dasharray="1.5,1.7"/>
<text transform="translate(343.04,587.18) scale(1.0005,1)" font-size="12.113" fill="#1e1e1e" font-weight="normal" stroke="#1e1e1e" stroke-width="0.2">VC</text>
<line x1="322.4" y1="625" x2="338.8" y2="616" stroke="#b0b0b0" stroke-width="0.75" stroke-dasharray="1.5,1.7"/>
<text transform="translate(340.76,613.28) scale(1.0741,1)" font-size="11.690" fill="#1e1e1e" font-weight="normal" stroke="#1e1e1e" stroke-width="0.19">UC</text>
<line x1="322.4" y1="633.6" x2="336.7" y2="637.2" stroke="#b0b0b0" stroke-width="0.75" stroke-dasharray="1.5,1.7"/>
<text transform="translate(338.57,648.38) scale(1.0391,1)" font-size="12.113" fill="#1e1e1e" font-weight="normal" stroke="#1e1e1e" stroke-width="0.19">CarE</text>
<line x1="316" y1="640.4" x2="337" y2="672.4" stroke="#b0b0b0" stroke-width="0.75" stroke-dasharray="1.5,1.7"/>
<text transform="translate(338.65,683.87) scale(0.9804,1)" font-size="12.535" fill="#1e1e1e" font-weight="normal" stroke="#1e1e1e" stroke-width="0.2">SOD</text>
<line x1="241.2" y1="721.8" x2="282.9" y2="723.7" stroke="#b0b0b0" stroke-width="0.75" stroke-dasharray="1.5,1.7"/>
<text transform="translate(286.09,727.59) scale(1.1186,1)" font-size="11.268" fill="#1e1e1e" font-weight="normal" stroke="#1e1e1e" stroke-width="0.18">NC</text>
<line x1="231.2" y1="629" x2="148.2" y2="604.7" stroke="#4a7cbf" stroke-width="0.85"/>
<line x1="231.2" y1="629" x2="142.8" y2="618.6" stroke="#4a7cbf" stroke-width="0.85"/>
<line x1="231.2" y1="629" x2="139.6" y2="623.6" stroke="#4a7cbf" stroke-width="0.85"/>
<line x1="231.2" y1="629" x2="140.2" y2="625" stroke="#4a7cbf" stroke-width="0.85"/>
<line x1="231.2" y1="629" x2="139.4" y2="626.4" stroke="#4a7cbf" stroke-width="0.85"/>
<line x1="231.2" y1="629" x2="148.2" y2="626.8" stroke="#4a7cbf" stroke-width="0.85"/>
<line x1="231.2" y1="629" x2="140.6" y2="624.4" stroke="#4a7cbf" stroke-width="0.85"/>
<line x1="231.2" y1="629" x2="139.8" y2="632.6" stroke="#4a7cbf" stroke-width="0.85"/>
<line x1="231.2" y1="629" x2="140.8" y2="640.8" stroke="#4a7cbf" stroke-width="0.85"/>
<line x1="231.2" y1="629" x2="142.8" y2="645.4" stroke="#4a7cbf" stroke-width="0.85"/>
<line x1="231.2" y1="629" x2="146.9" y2="644.6" stroke="#4a7cbf" stroke-width="0.85"/>
<line x1="231.2" y1="629" x2="153" y2="645.9" stroke="#4a7cbf" stroke-width="0.85"/>
<line x1="231.2" y1="629" x2="139.2" y2="627.6" stroke="#4a7cbf" stroke-width="0.85"/>
<line x1="231.2" y1="629" x2="140" y2="629.5" stroke="#4a7cbf" stroke-width="0.85"/>
<line x1="231.2" y1="629" x2="139.6" y2="628.2" stroke="#4a7cbf" stroke-width="0.85"/>
<line x1="231.2" y1="629" x2="319.6" y2="616" stroke="#4a7cbf" stroke-width="0.85"/>
<line x1="231.2" y1="629" x2="322.4" y2="625" stroke="#4a7cbf" stroke-width="0.85"/>
<line x1="231.2" y1="629" x2="322.4" y2="633.6" stroke="#4a7cbf" stroke-width="0.85"/>
<line x1="231.2" y1="629" x2="316" y2="640.4" stroke="#4a7cbf" stroke-width="0.85"/>
<line x1="231.2" y1="629" x2="241.2" y2="721.8" stroke="#4a7cbf" stroke-width="0.85"/>
<circle cx="231.2" cy="629" r="1.9" fill="#5a1426"/>
<ellipse cx="231.2" cy="629" rx="91.8" ry="93.4" fill="none" stroke="#ea1c24" stroke-width="1.35"/>
<line x1="139.4" y1="629" x2="332.6" y2="629" stroke="#ec1820" stroke-width="1.9"/>
<line x1="231.4" y1="535.6" x2="231.4" y2="722.4" stroke="#ec1820" stroke-width="1.6"/>
<circle cx="148.2" cy="604.7" r="1.85" fill="#2a4e7e"/>
<circle cx="142.8" cy="618.6" r="1.85" fill="#2a4e7e"/>
<circle cx="139.6" cy="623.6" r="1.85" fill="#2a4e7e"/>
<circle cx="140.2" cy="625" r="1.85" fill="#2a4e7e"/>
<circle cx="139.4" cy="626.4" r="1.85" fill="#2a4e7e"/>
<circle cx="148.2" cy="626.8" r="1.85" fill="#2a4e7e"/>
<circle cx="140.6" cy="624.4" r="1.85" fill="#2a4e7e"/>
<circle cx="139.8" cy="632.6" r="1.85" fill="#2a4e7e"/>
<circle cx="140.8" cy="640.8" r="1.85" fill="#2a4e7e"/>
<circle cx="142.8" cy="645.4" r="1.85" fill="#2a4e7e"/>
<circle cx="146.9" cy="644.6" r="1.85" fill="#2a4e7e"/>
<circle cx="153" cy="645.9" r="1.85" fill="#2a4e7e"/>
<circle cx="139.2" cy="627.6" r="1.85" fill="#2a4e7e"/>
<circle cx="140" cy="629.5" r="1.85" fill="#2a4e7e"/>
<circle cx="139.6" cy="628.2" r="1.85" fill="#2a4e7e"/>
<circle cx="319.6" cy="616" r="1.85" fill="#2a4e7e"/>
<circle cx="322.4" cy="625" r="1.85" fill="#2a4e7e"/>
<circle cx="322.4" cy="633.6" r="1.85" fill="#2a4e7e"/>
<circle cx="316" cy="640.4" r="1.85" fill="#2a4e7e"/>
<circle cx="241.2" cy="721.8" r="1.85" fill="#2a4e7e"/>
<rect x="130.2" y="535.4" width="202.4" height="202.8" fill="none" stroke="#4a4a4a" stroke-width="1.1"/>
<line x1="139.4" y1="535.4" x2="139.4" y2="537" stroke="#666" stroke-width="0.7"/>
<line x1="139.4" y1="738.2" x2="139.4" y2="736.6" stroke="#666" stroke-width="0.7"/>
<line x1="148.58" y1="535.4" x2="148.58" y2="537" stroke="#666" stroke-width="0.7"/>
<line x1="148.58" y1="738.2" x2="148.58" y2="736.6" stroke="#666" stroke-width="0.7"/>
<line x1="157.76" y1="535.4" x2="157.76" y2="537" stroke="#666" stroke-width="0.7"/>
<line x1="157.76" y1="738.2" x2="157.76" y2="736.6" stroke="#666" stroke-width="0.7"/>
<line x1="166.94" y1="535.4" x2="166.94" y2="537" stroke="#666" stroke-width="0.7"/>
<line x1="166.94" y1="738.2" x2="166.94" y2="736.6" stroke="#666" stroke-width="0.7"/>
<line x1="176.12" y1="535.4" x2="176.12" y2="537" stroke="#666" stroke-width="0.7"/>
<line x1="176.12" y1="738.2" x2="176.12" y2="736.6" stroke="#666" stroke-width="0.7"/>
<line x1="185.3" y1="535.4" x2="185.3" y2="537" stroke="#666" stroke-width="0.7"/>
<line x1="185.3" y1="738.2" x2="185.3" y2="736.6" stroke="#666" stroke-width="0.7"/>
<line x1="194.48" y1="535.4" x2="194.48" y2="537" stroke="#666" stroke-width="0.7"/>
<line x1="194.48" y1="738.2" x2="194.48" y2="736.6" stroke="#666" stroke-width="0.7"/>
<line x1="203.66" y1="535.4" x2="203.66" y2="537" stroke="#666" stroke-width="0.7"/>
<line x1="203.66" y1="738.2" x2="203.66" y2="736.6" stroke="#666" stroke-width="0.7"/>
<line x1="212.84" y1="535.4" x2="212.84" y2="537" stroke="#666" stroke-width="0.7"/>
<line x1="212.84" y1="738.2" x2="212.84" y2="736.6" stroke="#666" stroke-width="0.7"/>
<line x1="222.02" y1="535.4" x2="222.02" y2="537" stroke="#666" stroke-width="0.7"/>
<line x1="222.02" y1="738.2" x2="222.02" y2="736.6" stroke="#666" stroke-width="0.7"/>
<line x1="231.2" y1="535.4" x2="231.2" y2="537" stroke="#666" stroke-width="0.7"/>
<line x1="231.2" y1="738.2" x2="231.2" y2="736.6" stroke="#666" stroke-width="0.7"/>
<line x1="240.38" y1="535.4" x2="240.38" y2="537" stroke="#666" stroke-width="0.7"/>
<line x1="240.38" y1="738.2" x2="240.38" y2="736.6" stroke="#666" stroke-width="0.7"/>
<line x1="249.56" y1="535.4" x2="249.56" y2="537" stroke="#666" stroke-width="0.7"/>
<line x1="249.56" y1="738.2" x2="249.56" y2="736.6" stroke="#666" stroke-width="0.7"/>
<line x1="258.74" y1="535.4" x2="258.74" y2="537" stroke="#666" stroke-width="0.7"/>
<line x1="258.74" y1="738.2" x2="258.74" y2="736.6" stroke="#666" stroke-width="0.7"/>
<line x1="267.92" y1="535.4" x2="267.92" y2="537" stroke="#666" stroke-width="0.7"/>
<line x1="267.92" y1="738.2" x2="267.92" y2="736.6" stroke="#666" stroke-width="0.7"/>
<line x1="277.1" y1="535.4" x2="277.1" y2="537" stroke="#666" stroke-width="0.7"/>
<line x1="277.1" y1="738.2" x2="277.1" y2="736.6" stroke="#666" stroke-width="0.7"/>
<line x1="286.28" y1="535.4" x2="286.28" y2="537" stroke="#666" stroke-width="0.7"/>
<line x1="286.28" y1="738.2" x2="286.28" y2="736.6" stroke="#666" stroke-width="0.7"/>
<line x1="295.46" y1="535.4" x2="295.46" y2="537" stroke="#666" stroke-width="0.7"/>
<line x1="295.46" y1="738.2" x2="295.46" y2="736.6" stroke="#666" stroke-width="0.7"/>
<line x1="304.64" y1="535.4" x2="304.64" y2="537" stroke="#666" stroke-width="0.7"/>
<line x1="304.64" y1="738.2" x2="304.64" y2="736.6" stroke="#666" stroke-width="0.7"/>
<line x1="313.82" y1="535.4" x2="313.82" y2="537" stroke="#666" stroke-width="0.7"/>
<line x1="313.82" y1="738.2" x2="313.82" y2="736.6" stroke="#666" stroke-width="0.7"/>
<line x1="323" y1="535.4" x2="323" y2="537" stroke="#666" stroke-width="0.7"/>
<line x1="323" y1="738.2" x2="323" y2="736.6" stroke="#666" stroke-width="0.7"/>
<line x1="130.2" y1="731.74" x2="131.8" y2="731.74" stroke="#666" stroke-width="0.7"/>
<line x1="332.6" y1="731.74" x2="331" y2="731.74" stroke="#666" stroke-width="0.7"/>
<line x1="130.2" y1="722.4" x2="131.8" y2="722.4" stroke="#666" stroke-width="0.7"/>
<line x1="332.6" y1="722.4" x2="331" y2="722.4" stroke="#666" stroke-width="0.7"/>
<line x1="130.2" y1="713.06" x2="131.8" y2="713.06" stroke="#666" stroke-width="0.7"/>
<line x1="332.6" y1="713.06" x2="331" y2="713.06" stroke="#666" stroke-width="0.7"/>
<line x1="130.2" y1="703.72" x2="131.8" y2="703.72" stroke="#666" stroke-width="0.7"/>
<line x1="332.6" y1="703.72" x2="331" y2="703.72" stroke="#666" stroke-width="0.7"/>
<line x1="130.2" y1="694.38" x2="131.8" y2="694.38" stroke="#666" stroke-width="0.7"/>
<line x1="332.6" y1="694.38" x2="331" y2="694.38" stroke="#666" stroke-width="0.7"/>
<line x1="130.2" y1="685.04" x2="131.8" y2="685.04" stroke="#666" stroke-width="0.7"/>
<line x1="332.6" y1="685.04" x2="331" y2="685.04" stroke="#666" stroke-width="0.7"/>
<line x1="130.2" y1="675.7" x2="131.8" y2="675.7" stroke="#666" stroke-width="0.7"/>
<line x1="332.6" y1="675.7" x2="331" y2="675.7" stroke="#666" stroke-width="0.7"/>
<line x1="130.2" y1="666.36" x2="131.8" y2="666.36" stroke="#666" stroke-width="0.7"/>
<line x1="332.6" y1="666.36" x2="331" y2="666.36" stroke="#666" stroke-width="0.7"/>
<line x1="130.2" y1="657.02" x2="131.8" y2="657.02" stroke="#666" stroke-width="0.7"/>
<line x1="332.6" y1="657.02" x2="331" y2="657.02" stroke="#666" stroke-width="0.7"/>
<line x1="130.2" y1="647.68" x2="131.8" y2="647.68" stroke="#666" stroke-width="0.7"/>
<line x1="332.6" y1="647.68" x2="331" y2="647.68" stroke="#666" stroke-width="0.7"/>
<line x1="130.2" y1="638.34" x2="131.8" y2="638.34" stroke="#666" stroke-width="0.7"/>
<line x1="332.6" y1="638.34" x2="331" y2="638.34" stroke="#666" stroke-width="0.7"/>
<line x1="130.2" y1="629" x2="131.8" y2="629" stroke="#666" stroke-width="0.7"/>
<line x1="332.6" y1="629" x2="331" y2="629" stroke="#666" stroke-width="0.7"/>
<line x1="130.2" y1="619.66" x2="131.8" y2="619.66" stroke="#666" stroke-width="0.7"/>
<line x1="332.6" y1="619.66" x2="331" y2="619.66" stroke="#666" stroke-width="0.7"/>
<line x1="130.2" y1="610.32" x2="131.8" y2="610.32" stroke="#666" stroke-width="0.7"/>
<line x1="332.6" y1="610.32" x2="331" y2="610.32" stroke="#666" stroke-width="0.7"/>
<line x1="130.2" y1="600.98" x2="131.8" y2="600.98" stroke="#666" stroke-width="0.7"/>
<line x1="332.6" y1="600.98" x2="331" y2="600.98" stroke="#666" stroke-width="0.7"/>
<line x1="130.2" y1="591.64" x2="131.8" y2="591.64" stroke="#666" stroke-width="0.7"/>
<line x1="332.6" y1="591.64" x2="331" y2="591.64" stroke="#666" stroke-width="0.7"/>
<line x1="130.2" y1="582.3" x2="131.8" y2="582.3" stroke="#666" stroke-width="0.7"/>
<line x1="332.6" y1="582.3" x2="331" y2="582.3" stroke="#666" stroke-width="0.7"/>
<line x1="130.2" y1="572.96" x2="131.8" y2="572.96" stroke="#666" stroke-width="0.7"/>
<line x1="332.6" y1="572.96" x2="331" y2="572.96" stroke="#666" stroke-width="0.7"/>
<line x1="130.2" y1="563.62" x2="131.8" y2="563.62" stroke="#666" stroke-width="0.7"/>
<line x1="332.6" y1="563.62" x2="331" y2="563.62" stroke="#666" stroke-width="0.7"/>
<line x1="130.2" y1="554.28" x2="131.8" y2="554.28" stroke="#666" stroke-width="0.7"/>
<line x1="332.6" y1="554.28" x2="331" y2="554.28" stroke="#666" stroke-width="0.7"/>
<line x1="130.2" y1="544.94" x2="131.8" y2="544.94" stroke="#666" stroke-width="0.7"/>
<line x1="332.6" y1="544.94" x2="331" y2="544.94" stroke="#666" stroke-width="0.7"/>
<line x1="128.7" y1="535.6" x2="130.2" y2="535.6" stroke="#555" stroke-width="0.8"/>
<line x1="323" y1="738.2" x2="323" y2="739.7" stroke="#555" stroke-width="0.8"/>
<line x1="128.7" y1="582.3" x2="130.2" y2="582.3" stroke="#555" stroke-width="0.8"/>
<line x1="277.1" y1="738.2" x2="277.1" y2="739.7" stroke="#555" stroke-width="0.8"/>
<line x1="128.7" y1="629" x2="130.2" y2="629" stroke="#555" stroke-width="0.8"/>
<line x1="231.2" y1="738.2" x2="231.2" y2="739.7" stroke="#555" stroke-width="0.8"/>
<line x1="128.7" y1="675.7" x2="130.2" y2="675.7" stroke="#555" stroke-width="0.8"/>
<line x1="185.3" y1="738.2" x2="185.3" y2="739.7" stroke="#555" stroke-width="0.8"/>
<line x1="128.7" y1="722.4" x2="130.2" y2="722.4" stroke="#555" stroke-width="0.8"/>
<line x1="139.4" y1="738.2" x2="139.4" y2="739.7" stroke="#555" stroke-width="0.8"/>
<text transform="translate(111.13,539.38) scale(1.0400,1)" font-size="11.831" fill="#1e1e1e" font-weight="normal" stroke="#1e1e1e" stroke-width="0.19">1.0</text>
<text transform="translate(111.19,586.08) scale(1.0400,1)" font-size="11.831" fill="#1e1e1e" font-weight="normal" stroke="#1e1e1e" stroke-width="0.19">0.5</text>
<text transform="translate(111.13,632.78) scale(1.0400,1)" font-size="11.831" fill="#1e1e1e" font-weight="normal" stroke="#1e1e1e" stroke-width="0.19">0.0</text>
<text transform="translate(111.19,679.48) scale(1.0400,1)" font-size="11.831" fill="#1e1e1e" font-weight="normal" stroke="#1e1e1e" stroke-width="0.19">0.5</text>
<text transform="translate(107.07,726.18) scale(1.0400,1)" font-size="11.831" fill="#1e1e1e" font-weight="normal" stroke="#1e1e1e" stroke-width="0.19">-1.0</text>
<text transform="translate(128.81,750.68) scale(1.0400,1)" font-size="11.549" fill="#1e1e1e" font-weight="normal" stroke="#1e1e1e" stroke-width="0.19">-1.0</text>
<text transform="translate(176.95,750.68) scale(1.0400,1)" font-size="11.549" fill="#1e1e1e" font-weight="normal" stroke="#1e1e1e" stroke-width="0.19">0.5</text>
<text transform="translate(222.82,750.68) scale(1.0400,1)" font-size="11.549" fill="#1e1e1e" font-weight="normal" stroke="#1e1e1e" stroke-width="0.19">0.0</text>
<text transform="translate(268.75,750.68) scale(1.0400,1)" font-size="11.549" fill="#1e1e1e" font-weight="normal" stroke="#1e1e1e" stroke-width="0.19">0.5</text>
<text transform="translate(314.41,750.68) scale(1.0400,1)" font-size="11.549" fill="#1e1e1e" font-weight="normal" stroke="#1e1e1e" stroke-width="0.19">1.0</text>
<text transform="translate(192.42,767.48) scale(1.0277,1)" font-size="11.972" fill="#1e1e1e" font-weight="normal" stroke="#1e1e1e" stroke-width="0.19">PC 1: 87.81%</text>
<text transform="translate(57.37,673.08) rotate(-90) scale(0.9180,1)" font-size="13.380" fill="#1e1e1e" font-weight="normal" stroke="#1e1e1e" stroke-width="0.22">PC 2:&#160;&#160;6.09%</text>
<text transform="translate(23.34,547.97) scale(0.7443,1)" font-size="17.754" fill="#0d0d0d" font-weight="bold" stroke="#0d0d0d" stroke-width="0.54">(</text>
<text transform="translate(29.15,548.32) scale(0.5423,1)" font-size="17.857" fill="#0d0d0d" font-weight="bold" stroke="#0d0d0d" stroke-width="0.74">J</text>
<text transform="translate(37.2,547.97) scale(0.7312,1)" font-size="17.754" fill="#0d0d0d" font-weight="bold" stroke="#0d0d0d" stroke-width="0.55">)</text>
<line x1="484.08" y1="549.6" x2="484.08" y2="726.2" stroke="#ececec" stroke-width="0.8" stroke-dasharray="4,2"/>
<line x1="531.36" y1="549.6" x2="531.36" y2="726.2" stroke="#ececec" stroke-width="0.8" stroke-dasharray="4,2"/>
<text transform="translate(407.77,561.51) scale(1.0000,1)" font-size="8.732" fill="#1e1e1e" font-weight="normal" stroke="#1e1e1e" stroke-width="0.15">HSP70</text>
<line x1="435" y1="558.6" x2="436.6" y2="558.6" stroke="#555" stroke-width="0.7"/>
<text transform="translate(415.15,570.43) scale(1.0000,1)" font-size="8.986" fill="#1e1e1e" font-weight="normal" stroke="#1e1e1e" stroke-width="0.15">MDA</text>
<line x1="435" y1="567.43" x2="436.6" y2="567.43" stroke="#555" stroke-width="0.7"/>
<text transform="translate(415.02,579.16) scale(1.0000,1)" font-size="8.732" fill="#1e1e1e" font-weight="normal" stroke="#1e1e1e" stroke-width="0.15">P450</text>
<line x1="435" y1="576.25" x2="436.6" y2="576.25" stroke="#555" stroke-width="0.7"/>
<text transform="translate(416.89,587.99) scale(1.0000,1)" font-size="8.732" fill="#1e1e1e" font-weight="normal" stroke="#1e1e1e" stroke-width="0.15">GSH</text>
<line x1="435" y1="585.08" x2="436.6" y2="585.08" stroke="#555" stroke-width="0.7"/>
<text transform="translate(424.9,596.9) scale(1.0000,1)" font-size="8.986" fill="#1e1e1e" font-weight="normal" stroke="#1e1e1e" stroke-width="0.15">TL</text>
<line x1="435" y1="593.9" x2="436.6" y2="593.9" stroke="#555" stroke-width="0.7"/>
<text transform="translate(423.15,605.73) scale(1.0000,1)" font-size="8.986" fill="#1e1e1e" font-weight="normal" stroke="#1e1e1e" stroke-width="0.15">EA</text>
<line x1="435" y1="602.73" x2="436.6" y2="602.73" stroke="#555" stroke-width="0.7"/>
<text transform="translate(410.66,614.55) scale(1.0000,1)" font-size="8.986" fill="#1e1e1e" font-weight="normal" stroke="#1e1e1e" stroke-width="0.15">TDNA</text>
<line x1="435" y1="611.55" x2="436.6" y2="611.55" stroke="#555" stroke-width="0.7"/>
<text transform="translate(422.83,623.29) scale(1.0000,1)" font-size="8.732" fill="#1e1e1e" font-weight="normal" stroke="#1e1e1e" stroke-width="0.15">NC</text>
<line x1="435" y1="620.38" x2="436.6" y2="620.38" stroke="#555" stroke-width="0.7"/>
<text transform="translate(417.33,632.11) scale(1.0000,1)" font-size="8.732" fill="#1e1e1e" font-weight="normal" stroke="#1e1e1e" stroke-width="0.15">GST</text>
<line x1="435" y1="629.2" x2="436.6" y2="629.2" stroke="#555" stroke-width="0.7"/>
<text transform="translate(424.09,641.02) scale(1.0000,1)" font-size="8.986" fill="#1e1e1e" font-weight="normal" stroke="#1e1e1e" stroke-width="0.15">TP</text>
<line x1="435" y1="638.02" x2="436.6" y2="638.02" stroke="#555" stroke-width="0.7"/>
<text transform="translate(407.77,649.76) scale(1.0000,1)" font-size="8.732" fill="#1e1e1e" font-weight="normal" stroke="#1e1e1e" stroke-width="0.15">HSP90</text>
<line x1="435" y1="646.85" x2="436.6" y2="646.85" stroke="#555" stroke-width="0.7"/>
<text transform="translate(424.14,658.67) scale(1.0000,1)" font-size="8.986" fill="#1e1e1e" font-weight="normal" stroke="#1e1e1e" stroke-width="0.15">LA</text>
<line x1="435" y1="655.67" x2="436.6" y2="655.67" stroke="#555" stroke-width="0.7"/>
<text transform="translate(422.88,667.5) scale(1.0000,1)" font-size="8.986" fill="#1e1e1e" font-weight="normal" stroke="#1e1e1e" stroke-width="0.15">TM</text>
<line x1="435" y1="664.5" x2="436.6" y2="664.5" stroke="#555" stroke-width="0.7"/>
<text transform="translate(423.79,676.24) scale(1.0000,1)" font-size="8.732" fill="#1e1e1e" font-weight="normal" stroke="#1e1e1e" stroke-width="0.15">TC</text>
<line x1="435" y1="673.33" x2="436.6" y2="673.33" stroke="#555" stroke-width="0.7"/>
<text transform="translate(422.3,685.15) scale(1.0000,1)" font-size="8.986" fill="#1e1e1e" font-weight="normal" stroke="#1e1e1e" stroke-width="0.15">MT</text>
<line x1="435" y1="682.15" x2="436.6" y2="682.15" stroke="#555" stroke-width="0.7"/>
<text transform="translate(416.59,693.89) scale(1.0000,1)" font-size="8.732" fill="#1e1e1e" font-weight="normal" stroke="#1e1e1e" stroke-width="0.15">SOD</text>
<line x1="435" y1="690.98" x2="436.6" y2="690.98" stroke="#555" stroke-width="0.7"/>
<text transform="translate(423.31,702.71) scale(1.0000,1)" font-size="8.732" fill="#1e1e1e" font-weight="normal" stroke="#1e1e1e" stroke-width="0.15">VC</text>
<line x1="435" y1="699.8" x2="436.6" y2="699.8" stroke="#555" stroke-width="0.7"/>
<text transform="translate(417.46,711.54) scale(1.0000,1)" font-size="8.732" fill="#1e1e1e" font-weight="normal" stroke="#1e1e1e" stroke-width="0.15">THC</text>
<line x1="435" y1="708.62" x2="436.6" y2="708.62" stroke="#555" stroke-width="0.7"/>
<text transform="translate(415.58,720.36) scale(1.0000,1)" font-size="8.732" fill="#1e1e1e" font-weight="normal" stroke="#1e1e1e" stroke-width="0.15">CarE</text>
<line x1="435" y1="717.45" x2="436.6" y2="717.45" stroke="#555" stroke-width="0.7"/>
<line x1="436.8" y1="558.5" x2="439" y2="558.5" stroke="#4a6ca0" stroke-width="1"/>
<line x1="438.5" y1="558" x2="438.5" y2="572" stroke="#7f98c0" stroke-width="1.2"/>
<line x1="436.8" y1="567.5" x2="439" y2="567.5" stroke="#4a6ca0" stroke-width="1"/>
<line x1="438.5" y1="569" x2="438.5" y2="639" stroke="#4a6ca0" stroke-width="1.3"/>
<line x1="436.8" y1="576.5" x2="439" y2="576.5" stroke="#4a6ca0" stroke-width="1"/>
<line x1="439.5" y1="593" x2="439.5" y2="643" stroke="#4a6ca0" stroke-width="1"/>
<line x1="436.8" y1="585.5" x2="440" y2="585.5" stroke="#4a6ca0" stroke-width="1"/>
<line x1="436.8" y1="593.5" x2="440" y2="593.5" stroke="#4a6ca0" stroke-width="1"/>
<line x1="436.8" y1="602.5" x2="440" y2="602.5" stroke="#4a6ca0" stroke-width="1"/>
<line x1="436.8" y1="611.5" x2="440" y2="611.5" stroke="#4a6ca0" stroke-width="1"/>
<line x1="436.8" y1="620.5" x2="440" y2="620.5" stroke="#4a6ca0" stroke-width="1"/>
<line x1="436.8" y1="629.5" x2="440" y2="629.5" stroke="#4a6ca0" stroke-width="1"/>
<line x1="440.5" y1="620" x2="440.5" y2="635" stroke="#7f98c0" stroke-width="1"/>
<line x1="436.8" y1="638.5" x2="440" y2="638.5" stroke="#7f98c0" stroke-width="1"/>
<line x1="436.8" y1="646.5" x2="441" y2="646.5" stroke="#7f98c0" stroke-width="1"/>
<line x1="440.5" y1="630" x2="440.5" y2="647" stroke="#7f98c0" stroke-width="1"/>
<line x1="438.38" y1="631.5" x2="446" y2="631.5" stroke="#7f98c0" stroke-width="1"/>
<line x1="445.5" y1="631" x2="445.5" y2="656" stroke="#7f98c0" stroke-width="1"/>
<line x1="436.8" y1="655.5" x2="446" y2="655.5" stroke="#7f98c0" stroke-width="1"/>
<line x1="444.81" y1="644.5" x2="449" y2="644.5" stroke="#4a6ca0" stroke-width="1"/>
<line x1="448.5" y1="644" x2="448.5" y2="669" stroke="#4a6ca0" stroke-width="1"/>
<line x1="436.8" y1="664.5" x2="447" y2="664.5" stroke="#4a6ca0" stroke-width="1"/>
<line x1="436.8" y1="673.5" x2="447" y2="673.5" stroke="#4a6ca0" stroke-width="1"/>
<line x1="446.5" y1="664" x2="446.5" y2="674" stroke="#4a6ca0" stroke-width="1"/>
<line x1="446.23" y1="668.5" x2="449" y2="668.5" stroke="#4a6ca0" stroke-width="1"/>
<line x1="448.03" y1="656.5" x2="599" y2="656.5" stroke="#4a6ca0" stroke-width="1"/>
<line x1="436.8" y1="682.5" x2="557" y2="682.5" stroke="#4a6ca0" stroke-width="1"/>
<line x1="436.8" y1="690.5" x2="456" y2="690.5" stroke="#7f98c0" stroke-width="1"/>
<line x1="436.8" y1="699.5" x2="456" y2="699.5" stroke="#4a6ca0" stroke-width="1"/>
<line x1="455.5" y1="690" x2="455.5" y2="700" stroke="#7f98c0" stroke-width="1"/>
<line x1="455.02" y1="695.5" x2="557" y2="695.5" stroke="#4a6ca0" stroke-width="1"/>
<line x1="556.5" y1="682" x2="556.5" y2="696" stroke="#4a6ca0" stroke-width="1"/>
<line x1="556.01" y1="688.5" x2="599" y2="688.5" stroke="#4a6ca0" stroke-width="1"/>
<line x1="598.5" y1="656" x2="598.5" y2="689" stroke="#4a6ca0" stroke-width="1"/>
<line x1="597.81" y1="672.5" x2="605" y2="672.5" stroke="#7f98c0" stroke-width="1"/>
<line x1="436.8" y1="708.5" x2="605" y2="708.5" stroke="#7f98c0" stroke-width="1"/>
<line x1="604.5" y1="672" x2="604.5" y2="709" stroke="#7f98c0" stroke-width="1"/>
<line x1="603.67" y1="690.5" x2="649" y2="690.5" stroke="#7f98c0" stroke-width="1.3"/>
<line x1="436.8" y1="717.5" x2="649" y2="717.5" stroke="#4a6ca0" stroke-width="1"/>
<line x1="648.5" y1="690" x2="648.5" y2="718" stroke="#4a6ca0" stroke-width="1"/>
<rect x="436.6" y="549.6" width="236.7" height="176.6" fill="none" stroke="#858585" stroke-width="1"/>
<line x1="446.26" y1="549.6" x2="446.26" y2="550.9" stroke="#777" stroke-width="0.6"/>
<line x1="446.26" y1="726.2" x2="446.26" y2="724.9" stroke="#777" stroke-width="0.6"/>
<line x1="455.71" y1="549.6" x2="455.71" y2="550.9" stroke="#777" stroke-width="0.6"/>
<line x1="455.71" y1="726.2" x2="455.71" y2="724.9" stroke="#777" stroke-width="0.6"/>
<line x1="465.17" y1="549.6" x2="465.17" y2="550.9" stroke="#777" stroke-width="0.6"/>
<line x1="465.17" y1="726.2" x2="465.17" y2="724.9" stroke="#777" stroke-width="0.6"/>
<line x1="474.62" y1="549.6" x2="474.62" y2="550.9" stroke="#777" stroke-width="0.6"/>
<line x1="474.62" y1="726.2" x2="474.62" y2="724.9" stroke="#777" stroke-width="0.6"/>
<line x1="484.08" y1="549.6" x2="484.08" y2="550.9" stroke="#777" stroke-width="0.6"/>
<line x1="484.08" y1="726.2" x2="484.08" y2="724.9" stroke="#777" stroke-width="0.6"/>
<line x1="493.54" y1="549.6" x2="493.54" y2="550.9" stroke="#777" stroke-width="0.6"/>
<line x1="493.54" y1="726.2" x2="493.54" y2="724.9" stroke="#777" stroke-width="0.6"/>
<line x1="502.99" y1="549.6" x2="502.99" y2="550.9" stroke="#777" stroke-width="0.6"/>
<line x1="502.99" y1="726.2" x2="502.99" y2="724.9" stroke="#777" stroke-width="0.6"/>
<line x1="512.45" y1="549.6" x2="512.45" y2="550.9" stroke="#777" stroke-width="0.6"/>
<line x1="512.45" y1="726.2" x2="512.45" y2="724.9" stroke="#777" stroke-width="0.6"/>
<line x1="521.9" y1="549.6" x2="521.9" y2="550.9" stroke="#777" stroke-width="0.6"/>
<line x1="521.9" y1="726.2" x2="521.9" y2="724.9" stroke="#777" stroke-width="0.6"/>
<line x1="531.36" y1="549.6" x2="531.36" y2="550.9" stroke="#777" stroke-width="0.6"/>
<line x1="531.36" y1="726.2" x2="531.36" y2="724.9" stroke="#777" stroke-width="0.6"/>
<line x1="540.82" y1="549.6" x2="540.82" y2="550.9" stroke="#777" stroke-width="0.6"/>
<line x1="540.82" y1="726.2" x2="540.82" y2="724.9" stroke="#777" stroke-width="0.6"/>
<line x1="550.27" y1="549.6" x2="550.27" y2="550.9" stroke="#777" stroke-width="0.6"/>
<line x1="550.27" y1="726.2" x2="550.27" y2="724.9" stroke="#777" stroke-width="0.6"/>
<line x1="559.73" y1="549.6" x2="559.73" y2="550.9" stroke="#777" stroke-width="0.6"/>
<line x1="559.73" y1="726.2" x2="559.73" y2="724.9" stroke="#777" stroke-width="0.6"/>
<line x1="569.18" y1="549.6" x2="569.18" y2="550.9" stroke="#777" stroke-width="0.6"/>
<line x1="569.18" y1="726.2" x2="569.18" y2="724.9" stroke="#777" stroke-width="0.6"/>
<line x1="578.64" y1="549.6" x2="578.64" y2="550.9" stroke="#777" stroke-width="0.6"/>
<line x1="578.64" y1="726.2" x2="578.64" y2="724.9" stroke="#777" stroke-width="0.6"/>
<line x1="588.1" y1="549.6" x2="588.1" y2="550.9" stroke="#777" stroke-width="0.6"/>
<line x1="588.1" y1="726.2" x2="588.1" y2="724.9" stroke="#777" stroke-width="0.6"/>
<line x1="597.55" y1="549.6" x2="597.55" y2="550.9" stroke="#777" stroke-width="0.6"/>
<line x1="597.55" y1="726.2" x2="597.55" y2="724.9" stroke="#777" stroke-width="0.6"/>
<line x1="607.01" y1="549.6" x2="607.01" y2="550.9" stroke="#777" stroke-width="0.6"/>
<line x1="607.01" y1="726.2" x2="607.01" y2="724.9" stroke="#777" stroke-width="0.6"/>
<line x1="616.46" y1="549.6" x2="616.46" y2="550.9" stroke="#777" stroke-width="0.6"/>
<line x1="616.46" y1="726.2" x2="616.46" y2="724.9" stroke="#777" stroke-width="0.6"/>
<line x1="625.92" y1="549.6" x2="625.92" y2="550.9" stroke="#777" stroke-width="0.6"/>
<line x1="625.92" y1="726.2" x2="625.92" y2="724.9" stroke="#777" stroke-width="0.6"/>
<line x1="635.38" y1="549.6" x2="635.38" y2="550.9" stroke="#777" stroke-width="0.6"/>
<line x1="635.38" y1="726.2" x2="635.38" y2="724.9" stroke="#777" stroke-width="0.6"/>
<line x1="644.83" y1="549.6" x2="644.83" y2="550.9" stroke="#777" stroke-width="0.6"/>
<line x1="644.83" y1="726.2" x2="644.83" y2="724.9" stroke="#777" stroke-width="0.6"/>
<line x1="654.29" y1="549.6" x2="654.29" y2="550.9" stroke="#777" stroke-width="0.6"/>
<line x1="654.29" y1="726.2" x2="654.29" y2="724.9" stroke="#777" stroke-width="0.6"/>
<line x1="663.74" y1="549.6" x2="663.74" y2="550.9" stroke="#777" stroke-width="0.6"/>
<line x1="663.74" y1="726.2" x2="663.74" y2="724.9" stroke="#777" stroke-width="0.6"/>
<line x1="673.3" y1="558.6" x2="672" y2="558.6" stroke="#777" stroke-width="0.6"/>
<line x1="673.3" y1="567.43" x2="672" y2="567.43" stroke="#777" stroke-width="0.6"/>
<line x1="673.3" y1="576.25" x2="672" y2="576.25" stroke="#777" stroke-width="0.6"/>
<line x1="673.3" y1="585.08" x2="672" y2="585.08" stroke="#777" stroke-width="0.6"/>
<line x1="673.3" y1="593.9" x2="672" y2="593.9" stroke="#777" stroke-width="0.6"/>
<line x1="673.3" y1="602.73" x2="672" y2="602.73" stroke="#777" stroke-width="0.6"/>
<line x1="673.3" y1="611.55" x2="672" y2="611.55" stroke="#777" stroke-width="0.6"/>
<line x1="673.3" y1="620.38" x2="672" y2="620.38" stroke="#777" stroke-width="0.6"/>
<line x1="673.3" y1="629.2" x2="672" y2="629.2" stroke="#777" stroke-width="0.6"/>
<line x1="673.3" y1="638.02" x2="672" y2="638.02" stroke="#777" stroke-width="0.6"/>
<line x1="673.3" y1="646.85" x2="672" y2="646.85" stroke="#777" stroke-width="0.6"/>
<line x1="673.3" y1="655.67" x2="672" y2="655.67" stroke="#777" stroke-width="0.6"/>
<line x1="673.3" y1="664.5" x2="672" y2="664.5" stroke="#777" stroke-width="0.6"/>
<line x1="673.3" y1="673.33" x2="672" y2="673.33" stroke="#777" stroke-width="0.6"/>
<line x1="673.3" y1="682.15" x2="672" y2="682.15" stroke="#777" stroke-width="0.6"/>
<line x1="673.3" y1="690.98" x2="672" y2="690.98" stroke="#777" stroke-width="0.6"/>
<line x1="673.3" y1="699.8" x2="672" y2="699.8" stroke="#777" stroke-width="0.6"/>
<line x1="673.3" y1="708.62" x2="672" y2="708.62" stroke="#777" stroke-width="0.6"/>
<line x1="673.3" y1="717.45" x2="672" y2="717.45" stroke="#777" stroke-width="0.6"/>
<text transform="translate(434.59,735.61) scale(1.0000,1)" font-size="8.592" fill="#1e1e1e" font-weight="normal">0</text>
<text transform="translate(479.29,735.61) scale(1.0000,1)" font-size="8.592" fill="#1e1e1e" font-weight="normal">50</text>
<text transform="translate(524.04,735.61) scale(1.0000,1)" font-size="8.592" fill="#1e1e1e" font-weight="normal">100</text>
<text transform="translate(571.32,735.61) scale(1.0000,1)" font-size="8.592" fill="#1e1e1e" font-weight="normal">150</text>
<text transform="translate(618.7,735.61) scale(1.0000,1)" font-size="8.592" fill="#1e1e1e" font-weight="normal">200</text>
<text transform="translate(665.98,735.61) scale(1.0000,1)" font-size="8.592" fill="#1e1e1e" font-weight="normal">250</text>
<text transform="translate(537.59,747.91) scale(0.9560,1)" font-size="9.252" fill="#1e1e1e" font-weight="normal">Distance</text>
<text transform="translate(376.19,548.02) scale(0.8145,1)" font-size="17.540" fill="#0d0d0d" font-weight="bold" stroke="#0d0d0d" stroke-width="0.49">(</text>
<text transform="translate(382.99,548.4) scale(0.7957,1)" font-size="17.536" fill="#0d0d0d" font-weight="bold" stroke="#0d0d0d" stroke-width="0.5">K</text>
<text transform="translate(394.1,548.02) scale(0.8602,1)" font-size="17.540" fill="#0d0d0d" font-weight="bold" stroke="#0d0d0d" stroke-width="0.47">)</text>
</svg>
</body></html>
